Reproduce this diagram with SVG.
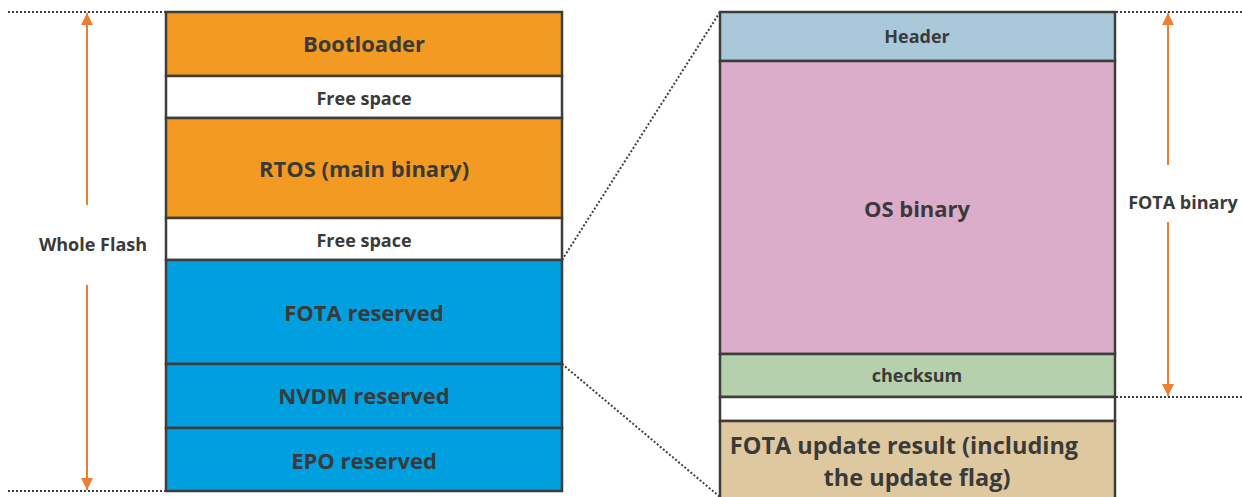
<svg xmlns="http://www.w3.org/2000/svg" width="1242" height="497" viewBox="0 0 1242 497">
<defs>
<style>
.blk{stroke:#3d3d3a;stroke-width:2.5}
.t{font-family:"Open Sans","Liberation Sans",sans-serif;font-weight:bold;fill:#3a3a3a;text-anchor:middle;dominant-baseline:central}
.L{font-size:22px}
.T{font-size:23.5px}
.S{font-size:18px}
.dot{stroke:#404040;stroke-width:2;stroke-dasharray:2 2;fill:none}
.arr{stroke:#ED7D31;stroke-width:2;fill:none}
</style>
<marker id="ah" viewBox="0 0 10 10" refX="10" refY="5" markerWidth="12" markerHeight="12" markerUnits="userSpaceOnUse" orient="auto">
<path d="M0,0 L10,5 L0,10 z" fill="#ED7D31"/>
</marker>
</defs>
<rect width="1242" height="497" fill="#ffffff"/>
<g id="connectors">
<line class="dot" x1="8" y1="12" x2="166" y2="12"/>
<line class="dot" x1="8" y1="491" x2="166" y2="491"/>
<line class="dot" x1="1116" y1="12" x2="1242" y2="12"/>
<line class="dot" x1="1116" y1="397" x2="1242" y2="397"/>
<line class="dot" x1="562" y1="260" x2="720" y2="12"/>
<line class="dot" x1="562" y1="364" x2="720" y2="497"/>
<line class="arr" x1="87" y1="205" x2="87" y2="13" marker-end="url(#ah)"/>
<line class="arr" x1="87" y1="285" x2="87" y2="490" marker-end="url(#ah)"/>
<line class="arr" x1="1168" y1="165" x2="1168" y2="13" marker-end="url(#ah)"/>
<line class="arr" x1="1168" y1="222" x2="1168" y2="396" marker-end="url(#ah)"/>
</g>
<g id="whole-flash-label"><text class="t S" x="93" y="244">Whole Flash</text></g>
<g id="fota-binary-label"><text class="t S" x="1183" y="202">FOTA binary</text></g>
<g id="bootloader"><rect class="blk" x="166" y="12" width="396" height="64" fill="#F29A21"/><text class="t L" x="364" y="43">Bootloader</text></g>
<g id="free1"><rect class="blk" x="166" y="76" width="396" height="42" fill="#ffffff"/><text class="t S" x="364" y="98">Free space</text></g>
<g id="rtos"><rect class="blk" x="166" y="118" width="396" height="100" fill="#F29A21"/><text class="t L" x="364" y="168">RTOS (main binary)</text></g>
<g id="free2"><rect class="blk" x="166" y="218" width="396" height="42" fill="#ffffff"/><text class="t S" x="364" y="240">Free space</text></g>
<g id="fota-reserved"><rect class="blk" x="166" y="260" width="396" height="104" fill="#009FDF"/><text class="t L" x="364" y="312">FOTA reserved</text></g>
<g id="nvdm"><rect class="blk" x="166" y="364" width="396" height="64" fill="#009FDF"/><text class="t L" x="364" y="395">NVDM reserved</text></g>
<g id="epo"><rect class="blk" x="166" y="428" width="396" height="63" fill="#009FDF"/><text class="t L" x="364" y="460">EPO reserved</text></g>
<g id="header"><rect class="blk" x="720" y="12" width="395" height="49" fill="#A9C9DB"/><text class="t S" x="917" y="36">Header</text></g>
<g id="os-binary"><rect class="blk" x="720" y="61" width="395" height="293" fill="#DCADCB"/><text class="t L" x="917" y="208">OS binary</text></g>
<g id="checksum"><rect class="blk" x="720" y="354" width="395" height="43" fill="#B5D0AC"/><text class="t S" x="917" y="375">checksum</text></g>
<g id="gap"><rect class="blk" x="720" y="397" width="395" height="24" fill="#ffffff"/></g>
<g id="fota-result"><rect class="blk" x="720" y="421" width="395" height="90" fill="#DEC8A0"/><text class="t T" x="904" y="445">FOTA update result (including</text><text class="t T" x="917" y="477">the update flag)</text></g>
</svg>
